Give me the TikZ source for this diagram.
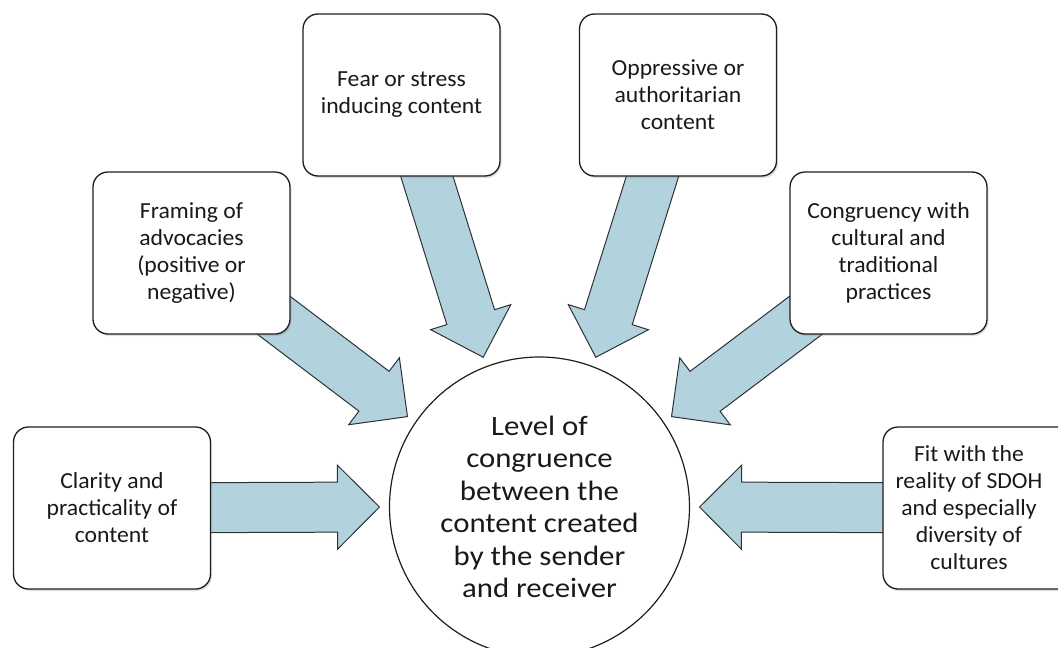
\documentclass[tikz,border=0pt]{standalone}
\usepackage{fontspec}
\setmainfont{Carlito}
\newfontfamily\boxfont[FakeStretch=1.03]{Carlito}
\newfontfamily\hubfont[FakeStretch=1.1]{Carlito}
\usetikzlibrary{calc}
\usetikzlibrary{shadows}
\usetikzlibrary{backgrounds}

\definecolor{arrowfill}{RGB}{178,210,222}
\definecolor{arrowline}{RGB}{45,50,55}
\definecolor{boxline}{RGB}{30,30,30}

\tikzset{
	factor/.style={draw=boxline, line width=1.3pt, fill=white, rounded corners=15pt,
		minimum width=197pt, minimum height=162pt, align=center,
		font=\boxfont\fontsize{23}{27}\selectfont, text=black!90,
		drop shadow={shadow xshift=1.5pt, shadow yshift=-2pt, opacity=0.25}},
	factortext/.style={align=center, font=\boxfont\fontsize{23}{27}\selectfont, text=black!90},
	hub/.style={circle, draw=boxline, line width=1.2pt, fill=white, minimum size=300pt,
		align=center, font=\hubfont\fontsize{28}{32.5}\selectfont, text=black!90},
	fatarrow/.style={draw=arrowline, line width=1pt, fill=arrowfill, line join=miter}
}

% block arrow from the centre of #1 to the point #2
\newcommand\fatarrow[2]{%
	\coordinate (hb) at ($(#2)!42pt!(#1)$);
	\draw[fatarrow] ($(#1)!25pt!90:(#2)$) -- ($(hb)!25pt!90:(#2)$) -- ($(hb)!42pt!90:(#2)$)
		-- (#2) -- ($(hb)!42pt!-90:(#2)$) -- ($(hb)!25pt!-90:(#2)$) -- ($(#1)!25pt!-90:(#2)$) -- cycle;
}

\begin{document}
\begin{tikzpicture}[x=1pt, y=-1pt]
	\clip (0,0) rectangle (1058,648);

	\node[hub] (hub) at (539.5,507) {Level of\\congruence\\between the\\content created\\by the sender\\and receiver};

	\node[factor] (clarity) at (112,508) {Clarity and\\practicality of\\content};
	\node[factor] (framing) at (191.5,253) {Framing of\\advocacies\\(positive or\\negative)};
	\node[factor] (fear) at (401.5,95) {Fear or stress\\inducing content};
	\node[factor] (oppressive) at (678,95) {Oppressive or\\authoritarian\\content};
	\node[factor] (congruency) at (888.5,253) {Congruency with\\cultural and\\traditional\\practices};
	\node[factor] (fit) at (981.5,508) {};
	\node[factortext] (fittext) at (969,508) {Fit with the\\reality of SDOH\\and especially\\diversity of\\cultures};

	\coordinate (tipclarity) at ($(hub)+(180:160pt)$);
	\coordinate (tipframing) at ($(hub)+(145.6:160pt)$);
	\coordinate (tipfear) at ($(hub)+(110.6:160pt)$);
	\coordinate (tipoppressive) at ($(hub)+(69.4:160pt)$);
	\coordinate (tipcongruency) at ($(hub)+(34.4:160pt)$);
	\coordinate (tipfit) at ($(hub)+(0:160pt)$);

	\begin{scope}[on background layer]
		\fatarrow{clarity}{tipclarity}
		\fatarrow{framing}{tipframing}
		\fatarrow{fear}{tipfear}
		\fatarrow{oppressive}{tipoppressive}
		\fatarrow{congruency}{tipcongruency}
		\fatarrow{fit}{tipfit}
	\end{scope}
\end{tikzpicture}
\end{document}
